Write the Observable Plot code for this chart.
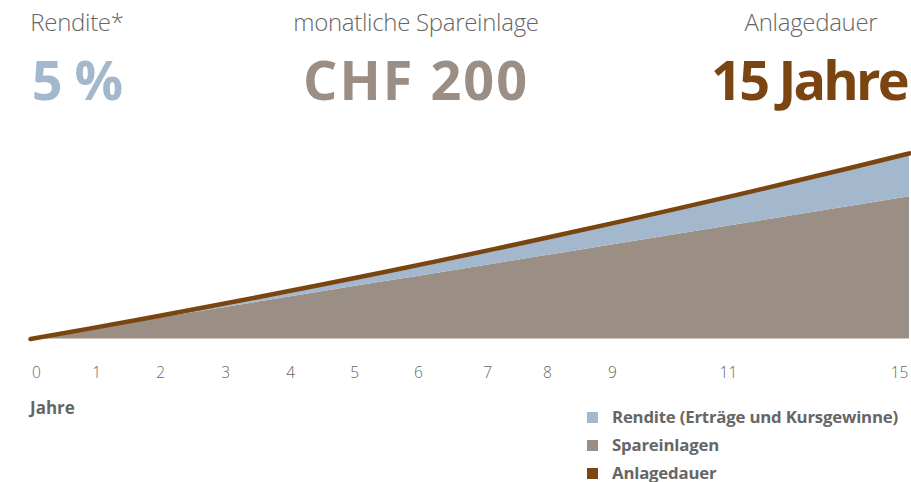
<!DOCTYPE html>
<html>
<head>
<meta charset="utf-8">
<script src="https://cdn.jsdelivr.net/npm/d3@7"></script>
<script src="https://cdn.jsdelivr.net/npm/@observablehq/plot@0.6"></script>
<style>
  html, body { margin: 0; padding: 0; background: #fff; }
  body { width: 911px; height: 482px; position: relative; overflow: hidden; font-family: "Open Sans", "Noto Sans", sans-serif; color: #666; }
  .hd { position: absolute; text-align: center; transform: translateX(-50%); white-space: nowrap; }
  .lab { top: 5px; font-size: 24px; font-weight: 300; color: #666; letter-spacing: -0.3px; }
  .big { top: 42px; font-size: 54px; font-weight: 700; }
  #chart { position: absolute; left: 0; top: 130px; }
  .jahre { position: absolute; left: 30px; top: 396px; font-size: 17px; font-weight: 700; color: #666; }
  .legend { position: absolute; left: 587px; top: 403px; font-size: 16.8px; font-weight: 700; color: #666; letter-spacing: -0.2px; white-space: nowrap; }
  .legend div { height: 28px; line-height: 24px; display: flex; align-items: center; }
  .legend span.sw { display: inline-block; width: 11px; height: 11px; margin-right: 14px; }
</style>
</head>
<body>
<div class="hd lab" style="left:77px">Rendite*</div>
<div class="hd big" style="left:77px;color:#a3b8cc;letter-spacing:-1px">5 %</div>
<div class="hd lab" style="left:416px">monatliche Spareinlage</div>
<div class="hd big" style="left:416px;color:#9b8e85;letter-spacing:2px">CHF 200</div>
<div class="hd lab" style="left:811px">Anlagedauer</div>
<div class="hd big" style="left:809px;color:#7a4510;letter-spacing:-2.8px">15 Jahre</div>
<div id="chart"></div>
<div class="jahre">Jahre</div>
<div class="legend">
  <div><span class="sw" style="background:#a3b8cc"></span>Rendite (Erträge und Kursgewinne)</div>
  <div><span class="sw" style="background:#9b8e85"></span>Spareinlagen</div>
  <div><span class="sw" style="background:#7a4510"></span>Anlagedauer</div>
</div>
<script>
// Years of the investment period
const years = [0, 1, 2, 3, 4, 5, 6, 7, 8, 9, 10, 11, 12, 13, 14, 15];
// Cumulative savings deposits (CHF)
const spareinlagen = [0, 2400, 4800, 7200, 9600, 12000, 14400, 16800, 19200, 21600, 24000, 26400, 28800, 31200, 33600, 36000];
// Total value incl. returns (CHF)
const gesamtwert = [0, 2630, 5330, 8100, 10950, 13870, 16850, 19900, 23050, 26250, 29530, 32880, 36300, 39800, 43350, 47000];
// Axis tick labels and where they sit along the time axis (in years)
const tickLabels = ["0", "1", "2", "3", "4", "5", "6", "7", "8", "9", "11", "15"];
const tickYears = [0.10, 1.13, 2.22, 3.33, 4.44, 5.53, 6.62, 7.80, 8.82, 9.93, 11.91, 14.83];

const data = years.map((t, i) => ({t, s: spareinlagen[i], g: gesamtwert[i]}));
const labelOf = new Map(tickYears.map((v, i) => [v, tickLabels[i]]));

const chart = Plot.plot({
  width: 911,
  height: 260,
  marginLeft: 30,
  marginRight: 2,
  marginTop: 11,
  marginBottom: 51.5,
  style: {fontFamily: "'Open Sans', 'Noto Sans', sans-serif", background: "transparent"},
  x: {domain: [0, 15]},
  y: {domain: [0, 50000], axis: null},
  marks: [
    Plot.areaY(data, {x: "t", y1: 0, y2: "s", fill: "#9b8e85", curve: "monotone-x"}),
    Plot.areaY(data, {x: "t", y1: "s", y2: "g", fill: "#a3b8cc", curve: "monotone-x"}),
    Plot.lineY(data, {x: "t", y: "g", stroke: "#7a4510", strokeWidth: 4.5, curve: "monotone-x"}),
    Plot.axisX({ticks: tickYears, tickFormat: d => labelOf.get(d), tickSize: 0, tickPadding: 28, fontSize: 15.5, fill: "#666", fontWeight: 300, label: null})
  ]
});
document.getElementById("chart").appendChild(chart);
</script>
</body>
</html>
